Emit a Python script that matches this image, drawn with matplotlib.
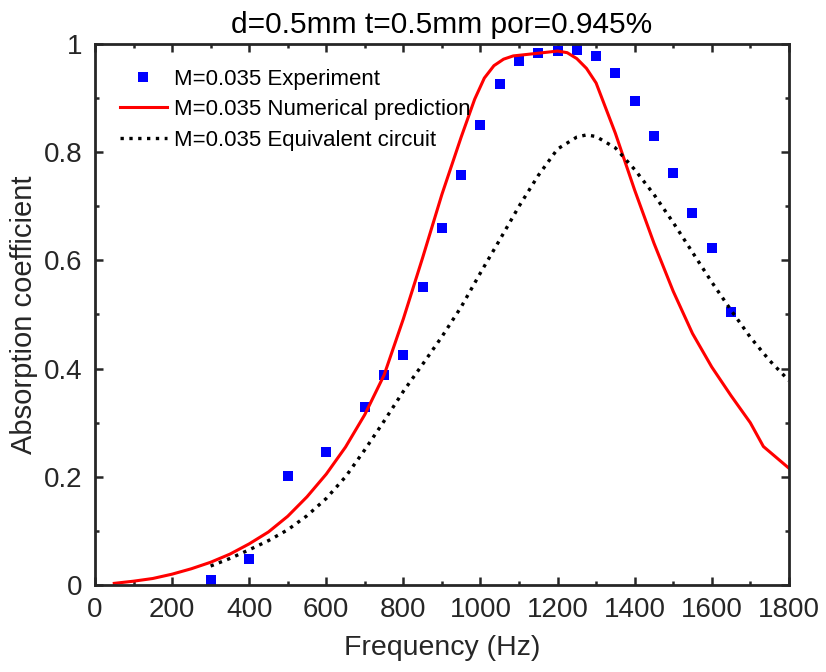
import matplotlib
matplotlib.use("Agg")
import matplotlib.pyplot as plt
from matplotlib.ticker import MultipleLocator

plt.rcParams['font.family'] = ['Liberation Sans', 'DejaVu Sans']

# experiment (blue squares)
exp_f = [300, 400, 500, 600, 700, 750, 800, 850, 900, 950, 1000, 1050, 1100,
         1150, 1200, 1250, 1300, 1350, 1400, 1450, 1500, 1550, 1600, 1650]
exp_a = [0.010, 0.048, 0.201, 0.245, 0.329, 0.388, 0.425, 0.551, 0.659, 0.758,
         0.850, 0.927, 0.968, 0.983, 0.988, 0.989, 0.978, 0.947, 0.895, 0.830,
         0.762, 0.687, 0.622, 0.504]

# numerical prediction (red line)
num_f = [50, 100, 150, 200, 250, 300, 350, 400, 450, 500, 550, 600, 650, 700,
         750, 800, 850, 900, 950, 985, 1010, 1035, 1060, 1085, 1150, 1200,
         1225, 1250, 1275, 1300, 1350, 1400, 1450, 1500, 1550, 1600, 1650,
         1700, 1734, 1800]
num_a = [0.003, 0.007, 0.012, 0.020, 0.030, 0.042, 0.057, 0.076, 0.098, 0.127,
         0.163, 0.205, 0.255, 0.315, 0.388, 0.492, 0.605, 0.722, 0.828, 0.898,
         0.937, 0.960, 0.972, 0.978, 0.983, 0.987, 0.984, 0.973, 0.955, 0.928,
         0.835, 0.730, 0.632, 0.543, 0.465, 0.403, 0.350, 0.300, 0.256, 0.216]

# equivalent circuit (black dotted)
eq_f = [300, 350, 400, 450, 500, 550, 600, 650, 700, 750, 800, 850, 900, 950,
        1000, 1050, 1100, 1150, 1200, 1250, 1275, 1300, 1350, 1400, 1450,
        1500, 1550, 1600, 1650, 1700, 1750, 1800]
eq_a = [0.035, 0.049, 0.065, 0.082, 0.102, 0.128, 0.160, 0.200, 0.250, 0.303,
        0.358, 0.408, 0.459, 0.514, 0.577, 0.638, 0.700, 0.757, 0.806, 0.828,
        0.832, 0.829, 0.808, 0.768, 0.722, 0.670, 0.615, 0.560, 0.508, 0.458,
        0.415, 0.378]

fig = plt.figure(figsize=(8.26, 6.72), dpi=100)
ax = fig.add_axes([0.115, 0.1295, 0.84, 0.805])

ax.plot(exp_f, exp_a, 's', color='#0000ff', markersize=7, markeredgewidth=0,
        label='M=0.035 Experiment')
ax.plot(num_f, num_a, '-', color='#ff0000', lw=2.2,
        label='M=0.035 Numerical prediction')
ax.plot(eq_f, eq_a, ':', color='black', lw=2.4,
        label='M=0.035 Equivalent circuit')

ax.set_xlim(0, 1800)
ax.set_ylim(0, 1)
ax.xaxis.set_major_locator(MultipleLocator(200))
ax.xaxis.set_minor_locator(MultipleLocator(100))
ax.yaxis.set_major_locator(MultipleLocator(0.2))
ax.yaxis.set_minor_locator(MultipleLocator(0.1))
ax.set_yticks([0, 0.2, 0.4, 0.6, 0.8, 1])
ax.set_yticklabels(['0', '0.2', '0.4', '0.6', '0.8', '1'])

ax.tick_params(which='both', direction='in', top=True, right=True,
               colors='#262626', labelsize=20, width=1.8)
ax.tick_params(which='major', length=5.5, pad=9)
ax.tick_params(which='minor', length=3.2)
for s in ax.spines.values():
    s.set_linewidth(2.0)
    s.set_color('#262626')

ax.set_xlabel('Frequency (Hz)', fontsize=20.5, color='#262626', labelpad=8)
ax.set_ylabel('Absorption coefficient', fontsize=21, color='#262626', labelpad=4)
ax.set_title('d=0.5mm t=0.5mm por=0.945%', fontsize=21.5, color='black', pad=8)

ax.legend(loc='upper left', frameon=False, fontsize=16, handlelength=2.1,
          handletextpad=0.35, labelspacing=0.42, borderaxespad=0.72)

fig.savefig('out.png', dpi=100)
